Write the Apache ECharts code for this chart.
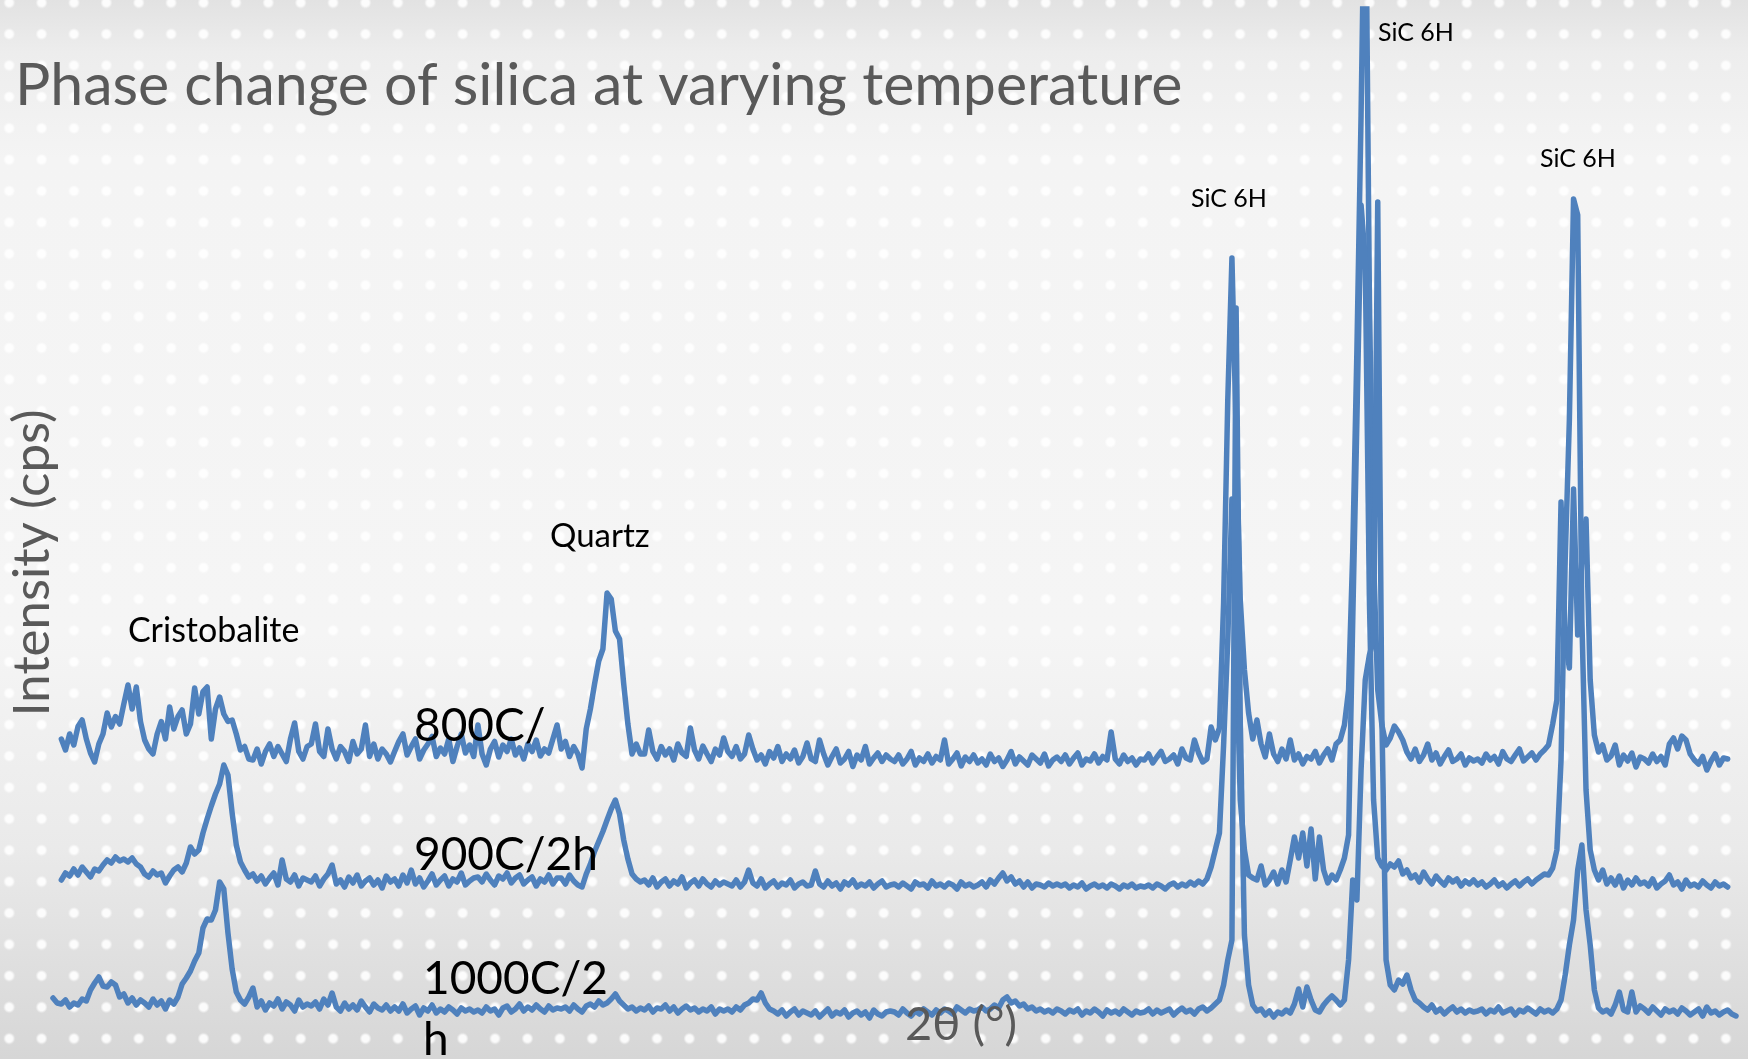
<!DOCTYPE html>
<html>
<head>
<meta charset="utf-8">
<title>Phase change of silica at varying temperature</title>
<script src="https://cdn.jsdelivr.net/npm/echarts/dist/echarts.min.js"></script>
<style>
  html, body { margin: 0; padding: 0; }
  #mycharts {
    width: 1748px;
    height: 1059px;
    background-color: #f2f2f2;
    background-image:
      radial-gradient(circle, rgba(255,255,255,0.9) 0, rgba(255,255,255,0.9) 3.5px, rgba(255,255,255,0) 6px),
      linear-gradient(to bottom, #e2e2e2 0%, #ededed 5%, #f4f4f4 15%, #f5f5f5 60%, #eaeaea 80%, #d6d6d6 100%);
    background-size: 32.4px 31.4px, 100% 100%;
    background-position: -7px -13px, 0 0;
  }
</style>
</head>
<body>
<div id="mycharts"></div>
<script>
// 2θ scan: start angle of each pattern and the step between readings (degrees)
var scanStep = 0.05;
var start800 = 20.0;
var start900 = 20.0;
var start1000 = 19.9;

// vertical offsets used to stack the three patterns (cps)
var offset800 = 500;
var offset900 = 250;
var offset1000 = 0;

// intensities (cps), one row per degree of 2θ
var int800 = [
  140, 118, 150, 128, 165, 178, 140, 112, 94, 130, 150, 192, 164, 185, 170, 210, 248, 200, 244, 175,
  138, 120, 110, 150, 175, 140, 204, 160, 185, 198, 150, 170, 242, 190, 235, 244, 140, 200, 224, 190,
  175, 178, 150, 118, 125, 100, 98, 120, 90, 115, 130, 105, 125, 110, 95, 140, 172, 115, 100, 125,
  130, 170, 115, 105, 160, 120, 100, 125, 115, 95, 135, 110, 120, 168, 105, 130, 100, 120, 110, 94,
  115, 135, 150, 108, 125, 140, 100, 118, 130, 145, 105, 122, 110, 140, 95, 125, 150, 112, 128, 105,
  168, 110, 88, 120, 135, 104, 128, 115, 140, 108, 122, 100, 130, 115, 138, 106, 120, 112, 140, 168,
  120, 135, 105, 125, 110, 82, 160, 200, 250, 296, 320, 432, 420, 356, 340, 250, 170, 110, 130, 110,
  110, 158, 115, 100, 125, 108, 120, 98, 130, 112, 105, 162, 118, 100, 126, 110, 95, 120, 108, 142,
  115, 105, 125, 100, 110, 148, 120, 98, 108, 90, 115, 102, 125, 95, 110, 100, 118, 92, 105, 132,
  100, 95, 138, 110, 88, 105, 120, 92, 100, 115, 85, 108, 98, 125, 90, 102, 112, 95, 108, 100,
  95, 108, 90, 100, 115, 88, 102, 95, 110, 92, 105, 98, 138, 90, 100, 112, 86, 104, 95, 108,
  92, 100, 88, 110, 95, 102, 85, 98, 115, 90, 104, 96, 88, 108, 100, 92, 110, 86, 98, 104,
  95, 108, 90, 102, 112, 88, 100, 96, 110, 92, 105, 98, 154, 100, 90, 108, 95, 102, 88, 100,
  98, 110, 92, 104, 115, 95, 100, 108, 90, 120, 102, 98, 138, 112, 94, 100, 164, 138, 162, 412,
  818, 1102, 758, 418, 278, 192, 140, 178, 130, 104, 150, 110, 95, 120, 100, 138, 98, 110, 90, 105,
  100, 115, 92, 108, 120, 98, 130, 138, 168, 238, 514, 918, 1388, 1950, 1018, 498, 238, 168, 128, 142,
  166, 154, 138, 114, 100, 120, 95, 108, 130, 98, 112, 90, 105, 118, 95, 100, 110, 88, 102, 96,
  100, 92, 110, 98, 105, 90, 115, 100, 95, 108, 120, 96, 104, 112, 98, 110, 118, 128, 170, 218,
  614, 338, 282, 640, 348, 498, 580, 258, 148, 114, 128, 98, 106, 128, 88, 108, 96, 112, 84, 104,
  100, 92, 110, 95, 105, 88, 130, 142, 120, 146, 138, 110, 98, 90, 105, 78, 96, 110, 88, 102,
  100
];

var int900 = [
  108, 122, 116, 130, 118, 134, 124, 114, 130, 126, 138, 148, 142, 154, 146, 150, 144, 152, 140, 134,
  120, 114, 126, 118, 122, 102, 116, 128, 134, 124, 142, 174, 160, 168, 202, 230, 256, 280, 300, 338,
  318, 242, 178, 144, 128, 114, 120, 106, 116, 100, 112, 122, 98, 148, 110, 104, 118, 96, 112, 108,
  104, 116, 96, 110, 120, 138, 100, 108, 94, 114, 102, 118, 96, 106, 112, 98, 108, 92, 116, 104,
  110, 96, 118, 102, 128, 100, 112, 94, 106, 120, 98, 108, 116, 96, 110, 104, 122, 98, 106, 112,
  114, 104, 120, 108, 98, 116, 110, 122, 102, 112, 118, 100, 108, 114, 96, 110, 104, 118, 100, 112,
  112, 100, 118, 106, 98, 94, 120, 140, 165, 185, 205, 228, 250, 268, 240, 188, 150, 120, 110, 104,
  108, 98, 112, 94, 104, 110, 96, 106, 100, 114, 92, 102, 108, 96, 110, 100, 94, 106, 98, 104,
  100, 96, 108, 94, 104, 128, 102, 96, 110, 92, 100, 106, 94, 102, 98, 108, 92, 100, 104, 96,
  98, 126, 100, 94, 106, 96, 102, 90, 104, 98, 108, 94, 100, 96, 104, 92, 100, 106, 94, 98,
  100, 94, 102, 96, 90, 104, 98, 100, 92, 106, 96, 100, 94, 102, 98, 90, 104, 96, 100, 94,
  98, 104, 94, 108, 100, 112, 122, 106, 114, 100, 106, 94, 104, 92, 100, 98, 94, 102, 96, 100,
  96, 100, 92, 98, 94, 102, 90, 96, 100, 94, 98, 92, 100, 96, 90, 98, 94, 100, 92, 96,
  94, 98, 92, 100, 96, 90, 98, 102, 94, 100, 96, 104, 98, 106, 100, 110, 134, 168, 202, 378,
  588, 870, 588, 268, 168, 118, 112, 108, 136, 98, 108, 124, 100, 128, 104, 148, 194, 152, 202, 136,
  210, 110, 194, 128, 102, 118, 108, 128, 152, 198, 628, 1028, 1458, 1348, 668, 268, 152, 136, 128, 140,
  134, 146, 120, 128, 112, 118, 104, 124, 110, 100, 116, 106, 98, 112, 104, 110, 96, 106, 100, 108,
  98, 104, 94, 100, 108, 96, 102, 92, 100, 106, 96, 104, 110, 100, 108, 114, 120, 118, 132, 168,
  348, 748, 1028, 1470, 1438, 628, 288, 168, 128, 108, 128, 100, 112, 98, 116, 92, 108, 98, 112, 100,
  104, 96, 110, 92, 100, 106, 118, 98, 104, 90, 108, 96, 100, 94, 106, 98, 92, 104, 96, 100,
  94
];

var int1000 = [
  122, 112,
  110, 118, 104, 112, 108, 120, 116, 138, 152, 164, 146, 144, 154, 148, 124, 130, 112, 122, 108, 118,
  112, 104, 120, 108, 116, 100, 118, 110, 124, 150, 162, 176, 196, 212, 262, 280, 278, 298, 354, 340,
  252, 180, 134, 118, 110, 124, 142, 104, 116, 98, 112, 106, 120, 100, 114, 108, 96, 118, 104, 110,
  106, 114, 100, 120, 108, 132, 104, 96, 112, 100, 108, 98, 116, 104, 94, 110, 102, 98, 108, 96,
  104, 96, 110, 92, 100, 106, 88, 102, 96, 108, 92, 100, 94, 104, 98, 90, 102, 96, 100, 94,
  98, 92, 104, 96, 100, 88, 102, 106, 94, 100, 110, 96, 104, 98, 108, 100, 94, 106, 98, 102,
  100, 104, 96, 108, 100, 94, 106, 110, 104, 116, 108, 112, 120, 130, 116, 108, 100, 104, 96, 102,
  98, 106, 94, 102, 100, 108, 96, 104, 92, 100, 106, 98, 102, 94, 100, 96, 104, 90, 100, 96,
  100, 94, 104, 98, 108, 112, 120, 118, 132, 112, 100, 96, 90, 98, 86, 94, 100, 88, 96, 92,
  88, 96, 84, 92, 100, 86, 94, 90, 98, 84, 92, 96, 88, 94, 82, 98, 90, 86, 94, 96,
  94, 88, 100, 92, 86, 96, 90, 100, 94, 88, 98, 92, 100, 96, 90, 104, 98, 92, 100, 96,
  98, 104, 96, 100, 108, 102, 118, 124, 112, 116, 106, 110, 100, 104, 96, 100, 94, 98, 92, 100,
  96, 90, 98, 94, 100, 88, 96, 92, 100, 94, 86, 98, 92, 96, 90, 100, 94, 88, 96, 92,
  94, 100, 90, 98, 92, 96, 100, 88, 96, 102, 94, 98, 90, 100, 104, 96, 102, 110, 118, 148,
  198, 238, 1502, 678, 248, 148, 108, 96, 100, 88, 96, 84, 94, 90, 98, 92, 110, 140, 104, 144,
  118, 98, 94, 108, 118, 126, 118, 108, 118, 198, 358, 318, 578, 758, 808, 838, 1714, 678, 198, 148,
  138, 158, 150, 168, 138, 118, 112, 104, 98, 108, 94, 100, 90, 98, 104, 94, 100, 92, 98, 94,
  96, 100, 90, 98, 94, 104, 92, 96, 100, 88, 98, 94, 102, 96, 90, 100, 94, 98, 92, 100,
  118, 168, 228, 278, 378, 428, 298, 228, 138, 102, 94, 98, 90, 108, 134, 98, 94, 134, 94, 106,
  100, 92, 104, 96, 88, 100, 94, 98, 90, 102, 96, 88, 94, 100, 86, 104, 92, 96, 88, 94,
  98, 90, 86
];

var seriesNames = ['800C/', '900C/2h', '1000C/2h'];
var peakNames = ['Cristobalite', 'Quartz', 'SiC 6H', 'SiC 6H', 'SiC 6H'];

function toPoints(values, start, offset) {
  return values.map(function (v, i) {
    return [+(start + i * scanStep).toFixed(2), v + offset];
  });
}

var lineColor = '#4f81bd';
var grayText = '#595959';

function lineSeries(name, values, start, offset) {
  return {
    name: name,
    type: 'line',
    data: toPoints(values, start, offset),
    showSymbol: false,
    symbol: 'none',
    clip: true,
    silent: true,
    lineStyle: { color: lineColor, width: 5.5, join: 'round', cap: 'round' }
  };
}

function label(text, x, y, size, color, opts) {
  var el = {
    type: 'text',
    x: x,
    y: y,
    silent: true,
    z: 10,
    style: {
      text: text,
      fontFamily: 'Lato',
      fontSize: size,
      fill: color,
      textAlign: 'left',
      textVerticalAlign: 'middle',
      align: 'left',
      verticalAlign: 'middle'
    }
  };
  if (opts) {
    if (opts.align) {
      el.style.textAlign = opts.align;
      el.style.align = opts.align;
    }
    if (opts.weight) el.style.fontWeight = opts.weight;
    if (opts.rotation) el.rotation = opts.rotation;
    if (opts.lineHeight) el.style.lineHeight = opts.lineHeight;
  }
  return el;
}

var myChart = echarts.init(document.getElementById('mycharts'), null, { renderer: 'canvas' });

var option = {
  backgroundColor: 'transparent',
  animation: false,
  grid: { left: 53, right: 12, top: 9, bottom: 0 },
  xAxis: {
    type: 'value',
    min: 19.9,
    max: 40.1,
    show: false
  },
  yAxis: {
    type: 'value',
    min: 0,
    max: 2100,
    show: false
  },
  series: [
    lineSeries(seriesNames[0], int800, start800, offset800),
    lineSeries(seriesNames[1], int900, start900, offset900),
    lineSeries(seriesNames[2], int1000, start1000, offset1000)
  ],
  graphic: [
    label('Phase change of silica at varying temperature', 15, 86, 59, grayText),
    label('Intensity (cps)', 33, 563, 51, grayText, { align: 'center', rotation: Math.PI / 2 }),
    label('2\u03b8 (\u00b0)', 961, 1025, 47, grayText, { align: 'center' }),
    label(peakNames[0], 128, 631, 34, '#000000'),
    label(peakNames[1], 550, 536, 33, '#000000'),
    label(peakNames[2], 1191, 199, 25, '#000000'),
    label(peakNames[3], 1378, 33, 25, '#000000'),
    label(peakNames[4], 1540, 159, 25, '#000000'),
    label('800C/', 414, 726, 46, '#000000'),
    label('900C/2h', 414, 855, 46, '#000000'),
    label('1000C/2\nh', 423, 1010, 46, '#000000', { lineHeight: 61 })
  ]
};

myChart.setOption(option);
</script>
</body>
</html>
